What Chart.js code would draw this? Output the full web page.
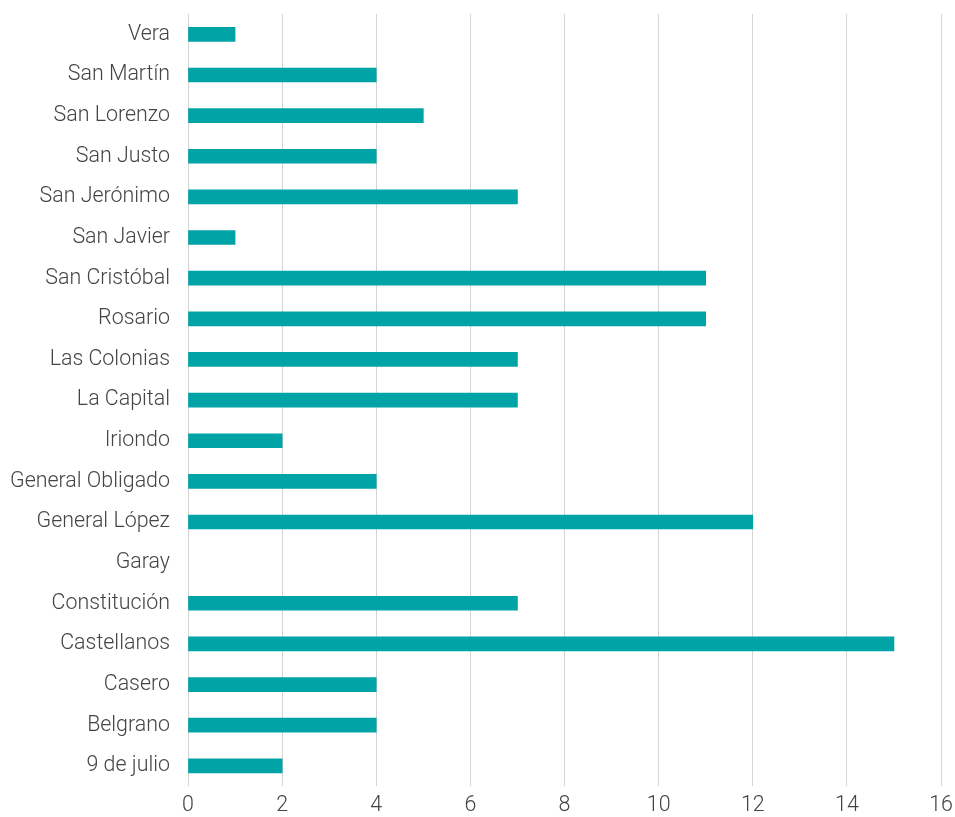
<!DOCTYPE html>
<html>
<head>
<meta charset="utf-8">
<script src="https://cdn.jsdelivr.net/npm/chart.js@4"></script>
<style>
html,body{margin:0;padding:0;background:#fff;}
#wrap{width:955px;height:817px;}
</style>
</head>
<body>
<div id="wrap"><canvas id="c" width="955" height="817"></canvas></div>
<script>
const categories = ["Vera","San Martín","San Lorenzo","San Justo","San Jerónimo","San Javier","San Cristóbal","Rosario","Las Colonias","La Capital","Iriondo","General Obligado","General López","Garay","Constitución","Castellanos","Casero","Belgrano","9 de julio"];
const values = [1,4,5,4,7,1,11,11,7,7,2,4,12,0,7,15,4,4,2];
const xTicks = [0,2,4,6,8,10,12,14,16];

new Chart(document.getElementById('c'), {
  type: 'bar',
  data: {
    labels: categories,
    datasets: [{
      data: values,
      backgroundColor: (ctx) => (ctx.raw === 0 ? 'rgba(0,0,0,0)' : '#00A3A6'),
      barThickness: 14
    }]
  },
  options: {
    indexAxis: 'y',
    responsive: false,
    animation: false,
    layout: { padding: { top: 14, right: 14, left: 0, bottom: -9 } },
    plugins: { legend: { display: false }, tooltip: { enabled: false } },
    scales: {
      x: {
        min: xTicks[0],
        max: xTicks[xTicks.length - 1],
        afterBuildTicks: (axis) => { axis.ticks = xTicks.map(v => ({ value: v })); },
        afterFit: (axis) => { axis.paddingRight = 0; },
        grid: { color: '#d4d4d4', lineWidth: 1, drawTicks: false },
        border: { display: false },
        ticks: { color: '#444', padding: 7, font: { family: 'Roboto', weight: '300', size: 21.4 } }
      },
      y: {
        afterFit: (axis) => { axis.width = 188; axis.paddingTop = 0; },
        grid: { display: false, drawTicks: false },
        border: { display: false },
        ticks: { color: '#444', padding: 18, font: { family: 'Roboto', weight: '300', size: 21.4 } }
      }
    }
  }
});
</script>
</body>
</html>
